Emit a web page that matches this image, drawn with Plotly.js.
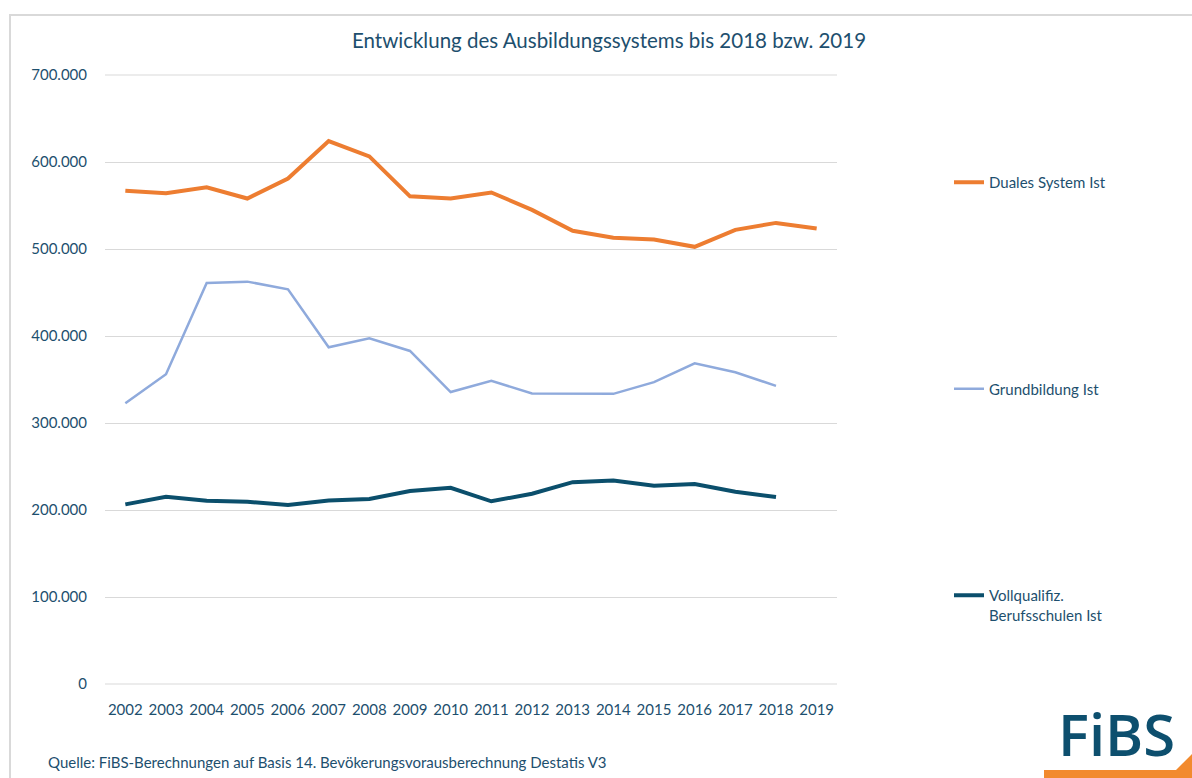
<!DOCTYPE html>
<html>
<head>
<meta charset="utf-8">
<script src="https://cdn.plot.ly/plotly-3.0.1.min.js"></script>
<style>
html,body{margin:0;padding:0;background:#fff;}
#chart{width:1192px;height:778px;}
</style>
</head>
<body>
<div id="chart"></div>
<script>
// ---- data ----
const years = ["2002","2003","2004","2005","2006","2007","2008","2009","2010","2011","2012","2013","2014","2015","2016","2017","2018","2019"];
const dualesSystem = [567000,564000,571000,558000,581000,624000,606500,560500,558000,565000,545000,521000,513000,511000,502500,522000,530000,523500];
const grundbildung = [322600,356000,461000,462500,453700,387000,397400,382800,335600,348400,333900,333500,333500,347000,368600,358300,342700];
const vollqualifiz = [206500,215300,210700,209500,205700,211000,212600,221800,225600,210000,218700,232000,234000,228000,229800,221000,215000];
const seriesNames = ["Duales System Ist","Grundbildung Ist","Vollqualifiz.<br>Berufsschulen Ist"];
const yTicks = [0,100000,200000,300000,400000,500000,600000,700000];

// ---- layout geometry ----
const W = 1192, H = 778;
const M = {l:105, r:355, t:75, b:94};
const pw = W - M.l - M.r, ph = H - M.t - M.b;
const px = x => (x - M.l) / pw;
const py = y => (H - M.b - y) / ph;

const textColor = "#1d4f6e";
const font = "Lato, 'Source Sans Pro', 'Open Sans', sans-serif";

const traces = [
  {x: years, y: dualesSystem, name: seriesNames[0], legendgroup:"a", type:"scatter", mode:"lines",
   line:{color:"#ED7D31", width:4}},
  {x: years, y: grundbildung, name: seriesNames[1], legendgroup:"b", type:"scatter", mode:"lines",
   line:{color:"#8FAADC", width:2.5}},
  {x: years, y: vollqualifiz, name: seriesNames[2], legendgroup:"c", type:"scatter", mode:"lines",
   line:{color:"#0B4F6C", width:4}}
];

const logoPath = "M " + px(1044) + " " + py(770) + " L " + px(1176) + " " + py(770) +
  " L " + px(1194) + " " + py(752) + " L " + px(1194) + " " + py(790) + " L " + px(1044) + " " + py(790) + " Z";

const layout = {
  width: W, height: H,
  margin: M,
  paper_bgcolor: "#fff", plot_bgcolor: "#fff",
  separators: ",.",
  font: {family: font, color: textColor, size: 15},
  title: {text: "Entwicklung des Ausbildungssystems bis 2018 bzw. 2019",
          font:{family: font, size: 20.5, color: textColor},
          xref: "container", x: 609/W, xanchor: "center",
          yref: "container", y: 1 - 41/H, yanchor: "middle"},
  xaxis: {type: "category", range: [-0.5, 17.5], showgrid: false, zeroline: false, showline: false,
          ticks: "outside", ticklen: 12, tickcolor: "rgba(0,0,0,0)",
          tickfont: {family: font, size: 15, color: textColor}, fixedrange: true},
  yaxis: {range: [0, 700000], tickvals: yTicks, tickformat: ",d", showgrid: true,
          gridcolor: "#d9d9d9", gridwidth: 1, zeroline: false, showline: false,
          ticks: "outside", ticklen: 14, tickcolor: "rgba(0,0,0,0)",
          tickfont: {family: font, size: 15, color: textColor}, fixedrange: true},
  showlegend: true,
  legend: {x: px(949), xanchor: "left", y: py(166), yanchor: "top",
           tracegroupgap: 184, valign: "top", bgcolor: "rgba(0,0,0,0)",
           font: {family: font, size: 15, color: textColor}},
  shapes: [
    {type: "rect", xref: "paper", yref: "paper", x0: px(10), x1: px(1210), y0: py(15), y1: py(800),
     line: {color: "#d9d9d9", width: 2}, fillcolor: "rgba(0,0,0,0)", layer: "below"},
    {type: "line", xref: "paper", yref: "paper", x0: 0, x1: 1, y0: 0, y1: 0,
     line: {color: "#d9d9d9", width: 1}, layer: "below"},
    {type: "line", xref: "paper", yref: "paper", x0: 0, x1: 1, y0: 1, y1: 1,
     line: {color: "#d9d9d9", width: 1}, layer: "below"},
    {type: "path", xref: "paper", yref: "paper", path: logoPath,
     fillcolor: "#F28A2E", line: {width: 0}}
  ],
  annotations: [
    {text: "Quelle: FiBS-Berechnungen auf Basis 14. Bevökerungsvorausberechnung Destatis V3",
     xref: "paper", yref: "paper", x: px(46), y: py(762), xanchor: "left", yanchor: "middle",
     showarrow: false, font: {family: font, size: 15, color: textColor}},
    {text: "FiBS", xref: "paper", yref: "paper", x: px(1116), y: py(734), xanchor: "center", yanchor: "middle",
     showarrow: false, font: {family: "'Open Sans', sans-serif", size: 58, weight: 600, color: "#0D4F6E"}}
  ]
};

Plotly.newPlot("chart", traces, layout, {displayModeBar: false, staticPlot: true});
</script>
</body>
</html>
